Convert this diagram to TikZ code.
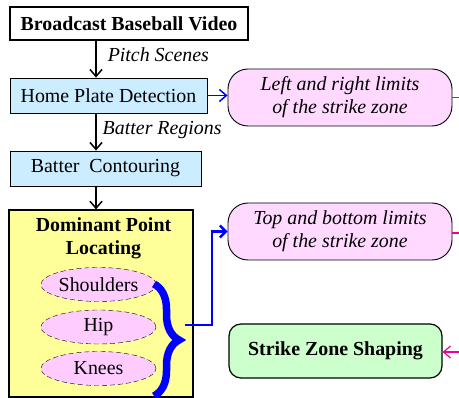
\documentclass[tikz,border=0pt]{standalone}
\usepackage{fontspec}
\setmainfont{Liberation Serif}
\usetikzlibrary{arrows.meta,decorations.pathreplacing,shapes.geometric}

\definecolor{stageblue}{HTML}{CCECFF}
\definecolor{limitpink}{HTML}{FFD9FF}
\definecolor{partpink}{HTML}{FFCCFF}
\definecolor{locateyellow}{HTML}{FFFF99}
\definecolor{shapegreen}{HTML}{CCFFCC}
\newcommand{\diafont}{\fontsize{19.9}{23}\selectfont}

\tikzset{
  stage/.style={draw, fill=stageblue, line width=0.8pt, inner sep=0pt, font=\diafont},
  limit/.style={draw, fill=limitpink, line width=0.9pt, rounded corners=20pt,
    align=center, inner sep=0pt, minimum width=224pt, minimum height=57pt,
    font=\diafont\itshape},
  part/.style={ellipse, draw, dash pattern=on 5pt off 3pt, fill=partpink,
    minimum width=115pt, minimum height=34pt, inner sep=0pt, font=\diafont},
  flow/.style={line width=1.5pt, -{Straight Barb[length=7pt,width=12pt]}},
  flowlabel/.style={font=\diafont\itshape, inner sep=0pt}
}

\begin{document}
\begin{tikzpicture}[x=1pt,y=-1pt]
  \useasboundingbox (0,0) rectangle (459,398);
  \node[draw, line width=1.8pt, fill=white, minimum width=238pt, minimum height=33pt,
    inner sep=0pt, font=\diafont\bfseries] (video) at (129,23.5) {Broadcast Baseball Video};
  \node[stage, minimum width=197pt, minimum height=35pt] (home) at (108.5,95.5) {Home Plate Detection};
  \node[stage, minimum width=191pt, minimum height=35pt] (contour) at (105.5,168.5) {Batter\ \ Contouring};
  \node[draw, fill=locateyellow, line width=1.2pt, minimum width=184pt, minimum height=187pt,
    inner sep=0pt] (locate) at (101,303.5) {};
  \node[align=center, inner sep=0pt, font=\diafont\bfseries] (locatetitle) at (103.5,238) {Dominant Point\\Locating};
  \node[part] (shoulders) at (98.5,284.5) {Shoulders};
  \node[part] (hip) at (98.5,327) {Hip};
  \node[part] (knees) at (98.5,368.5) {Knees};
  \node[limit] (lr) at (340,97.5) {Left and right limits\\of the strike zone};
  \node[limit] (tb) at (340,231.5) {Top and bottom limits\\of the strike zone};
  \node[draw, fill=shapegreen, rounded corners=12pt, line width=1.2pt, minimum width=213pt,
    minimum height=54pt, font=\diafont\bfseries] (shaping) at (335.5,351) {Strike Zone Shaping};

  \coordinate (spine) at (96,0);
  \draw[flow] (video.south -| spine) -- node[flowlabel, anchor=west, xshift=11pt, yshift=5pt] {Pitch Scenes} (home.north -| spine);
  \draw[flow] (home.south -| spine) -- node[flowlabel, anchor=west, xshift=6pt, yshift=2pt] {Batter Regions} (contour.north -| spine);
  \draw[flow] (contour.south -| spine) -- (locate.north -| spine);
  \draw[flow, blue] (home.east) -- (home.east -| lr.west);

  \coordinate (bracetop) at (154,284);
  \coordinate (bracebottom) at (154,396);
  \draw[blue, line width=7.5pt, decorate, decoration={brace, amplitude=25pt}] (bracetop) -- (bracebottom);
  \coordinate (bracetip) at (185,325);
  \coordinate (bend) at (212,325);
  \draw[blue, line width=2.5pt, -{Straight Barb[length=6pt,width=12pt]}] (bracetip) -- (bend) |- (tb.west);

  \coordinate (lrout) at (459,97.5);
  \coordinate (tbout) at (459,233);
  \coordinate (shapein) at (459,352);
  \draw[magenta, line width=1.2pt] (lr.east) -- (lrout);
  \draw[magenta, line width=1.2pt] (tb.east |- tbout) -- (tbout);
  \draw[magenta, line width=1.2pt, -{Straight Barb[length=7pt,width=12pt]}] (shapein) -- (shaping.east |- shapein);
\end{tikzpicture}
\end{document}
